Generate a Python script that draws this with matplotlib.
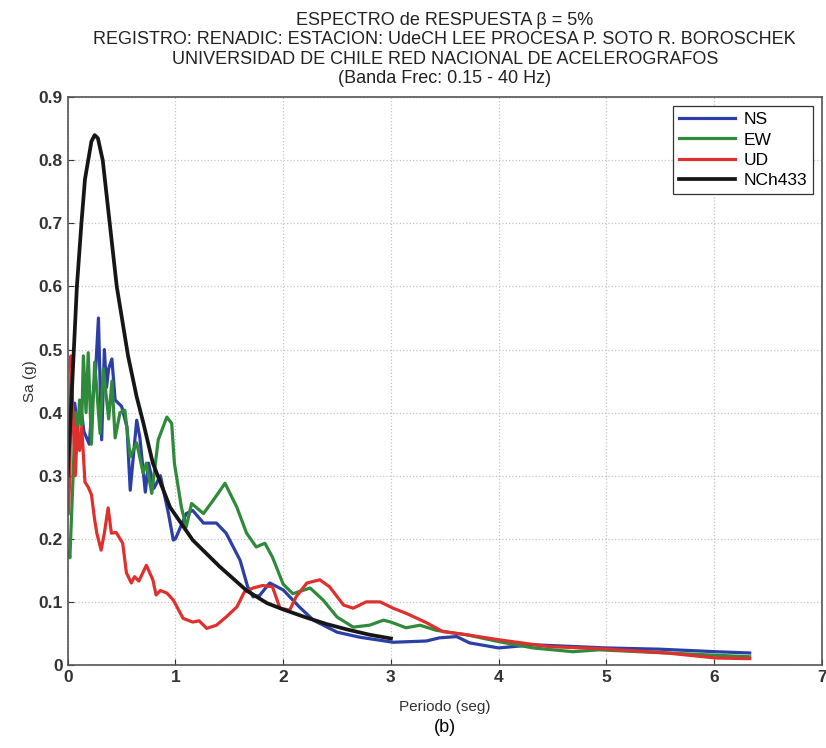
import matplotlib
matplotlib.use("Agg")
import matplotlib.pyplot as plt
import numpy as np

# NS (azul)
t_ns = [0.01, 0.04, 0.065, 0.09, 0.12, 0.15, 0.2, 0.23, 0.26, 0.285, 0.3, 0.315, 0.34, 0.36,
        0.38, 0.41, 0.44, 0.5, 0.55, 0.58, 0.64, 0.67, 0.72, 0.75, 0.8, 0.86, 0.935, 0.98,
        1.0, 1.1, 1.16, 1.26, 1.38, 1.47, 1.6, 1.67, 1.72, 1.78, 1.875, 2.0, 2.15, 2.28,
        2.5, 2.71, 3.02, 3.33, 3.45, 3.61, 3.73, 4.0, 4.32, 5.0, 5.5, 6.02, 6.33]
sa_ns = [0.33, 0.40, 0.415, 0.38, 0.41, 0.37, 0.35, 0.42, 0.47, 0.55, 0.45, 0.357, 0.50, 0.44,
         0.47, 0.485, 0.42, 0.41, 0.377, 0.277, 0.388, 0.36, 0.274, 0.32, 0.28, 0.30, 0.24, 0.198,
         0.20, 0.24, 0.245, 0.225, 0.225, 0.209, 0.166, 0.124, 0.108, 0.11, 0.13, 0.119, 0.092, 0.071,
         0.052, 0.044, 0.036, 0.038, 0.043, 0.045, 0.035, 0.027, 0.032, 0.027, 0.025, 0.021, 0.019]

# EW (verde)
t_ew = [0.01, 0.02, 0.05, 0.07, 0.09, 0.11, 0.13, 0.145, 0.17, 0.19, 0.22, 0.25, 0.3, 0.33,
        0.38, 0.41, 0.44, 0.485, 0.53, 0.58, 0.64, 0.70, 0.73, 0.78, 0.84, 0.92, 0.965, 0.99,
        1.055, 1.10, 1.15, 1.26, 1.35, 1.46, 1.57, 1.66, 1.75, 1.83, 1.9, 2.0, 2.09, 2.25,
        2.37, 2.5, 2.65, 2.8, 2.93, 3.0, 3.14, 3.27, 3.42, 3.61, 3.7, 4.0, 4.32, 4.69, 4.93,
        5.56, 6.33]
sa_ew = [0.18, 0.17, 0.30, 0.40, 0.36, 0.42, 0.38, 0.49, 0.40, 0.495, 0.35, 0.48, 0.367, 0.47,
         0.39, 0.45, 0.36, 0.40, 0.404, 0.33, 0.352, 0.304, 0.32, 0.272, 0.357, 0.393, 0.383, 0.32,
         0.25, 0.219, 0.256, 0.24, 0.261, 0.288, 0.25, 0.209, 0.187, 0.193, 0.171, 0.128, 0.113, 0.122,
         0.103, 0.076, 0.06, 0.063, 0.071, 0.068, 0.059, 0.063, 0.055, 0.05, 0.048, 0.037, 0.027, 0.021,
         0.024, 0.019, 0.013]

# UD (rojo)
t_ud = [0.005, 0.02, 0.03, 0.05, 0.07, 0.09, 0.11, 0.13, 0.16, 0.19, 0.22, 0.25, 0.27, 0.31,
        0.34, 0.375, 0.405, 0.45, 0.51, 0.545, 0.59, 0.62, 0.66, 0.73, 0.79, 0.82, 0.86, 0.92,
        0.98, 1.07, 1.16, 1.22, 1.29, 1.38, 1.47, 1.57, 1.64, 1.72, 1.81, 1.9, 1.97, 2.06,
        2.12, 2.22, 2.34, 2.43, 2.56, 2.65, 2.77, 2.9, 3.02, 3.14, 3.33, 3.48, 3.7, 4.0, 4.47,
        4.93, 5.56, 6.02, 6.33]
sa_ud = [0.24, 0.30, 0.49, 0.39, 0.30, 0.377, 0.34, 0.377, 0.29, 0.282, 0.27, 0.23, 0.209, 0.182,
         0.209, 0.249, 0.209, 0.21, 0.193, 0.146, 0.13, 0.14, 0.133, 0.158, 0.135, 0.111, 0.118, 0.114,
         0.103, 0.074, 0.068, 0.07, 0.058, 0.063, 0.076, 0.092, 0.116, 0.122, 0.126, 0.124, 0.09, 0.087,
         0.108, 0.13, 0.135, 0.124, 0.095, 0.09, 0.10, 0.10, 0.09, 0.082, 0.067, 0.053, 0.048, 0.040,
         0.029, 0.026, 0.019, 0.011, 0.010]

# NCh433 (espectro de diseno)
t_nch = [0.0, 0.04, 0.085, 0.127, 0.16, 0.19, 0.22, 0.25, 0.28, 0.325, 0.39, 0.455, 0.56, 0.64,
         0.7, 0.79, 0.95, 1.16, 1.41, 1.66, 1.85, 2.0, 2.2, 2.4, 2.6, 2.8, 3.0]
sa_nch = [0.30, 0.44, 0.60, 0.70, 0.77, 0.80, 0.83, 0.84, 0.835, 0.80, 0.70, 0.60, 0.49, 0.425,
          0.385, 0.32, 0.25, 0.198, 0.156, 0.118, 0.098, 0.088, 0.076, 0.065, 0.056, 0.048, 0.042]

xticks = [0, 1, 2, 3, 4, 5, 6, 7]
yticks = [0, 0.1, 0.2, 0.3, 0.4, 0.5, 0.6, 0.7, 0.8, 0.9]

plt.rcParams['font.family'] = ['Liberation Sans', 'DejaVu Sans']

fig = plt.figure(figsize=(8.26, 7.48), dpi=100)
ax = fig.add_axes([0.082, 0.111, 0.913, 0.759])

ax.plot(t_ns, sa_ns, "-", c="#2b3fa6", lw=2.3, label="NS")
ax.plot(t_ew, sa_ew, "-", c="#2f8a3c", lw=2.3, label="EW")
ax.plot(t_ud, sa_ud, "-", c="#e0302e", lw=2.3, label="UD")
ax.plot(t_nch, sa_nch, "-", c="#161616", lw=2.7, label="NCh433", solid_joinstyle="round")

ax.set_xlim(0, 7); ax.set_ylim(0, 0.9)
ax.set_xticks(xticks); ax.set_yticks(yticks)
ax.set_xticklabels([str(v) for v in xticks])
ax.set_yticklabels(["0"] + ["%.1f" % v for v in yticks[1:]])
ax.tick_params(labelsize=12.5, direction="in", length=4, width=0.8, colors="#333333")
for lab in ax.get_xticklabels() + ax.get_yticklabels():
    lab.set_fontweight("bold")
ax.grid(True, ls=":", color="#c4c4c4", lw=0.9)
for s in ax.spines.values():
    s.set_color("#555555"); s.set_linewidth(1.2)

ax.set_xlabel("Periodo (seg)", fontsize=11, labelpad=11, color="#333333")
ax.set_ylabel("Sa (g)", fontsize=11, labelpad=1, color="#333333")
ax.set_title("ESPECTRO de RESPUESTA \u03b2 = 5%\n"
             "REGISTRO: RENADIC: ESTACION: UdeCH LEE PROCESA P. SOTO R. BOROSCHEK\n"
             "UNIVERSIDAD DE CHILE RED NACIONAL DE ACELEROGRAFOS\n"
             "(Banda Frec: 0.15 - 40 Hz)", fontsize=13, linespacing=1.2, pad=10,
             color="#222222")

leg = ax.legend(loc="upper right", fontsize=12.5, handlelength=3.2, framealpha=1,
                fancybox=False, edgecolor="#333333", borderpad=0.35, labelspacing=0.3,
                handletextpad=0.5)
leg.get_frame().set_linewidth(0.9)

fig.text(0.539, 0.027, "(b)", ha="center", va="center", fontsize=13)

fig.savefig("out.png", dpi=100)
